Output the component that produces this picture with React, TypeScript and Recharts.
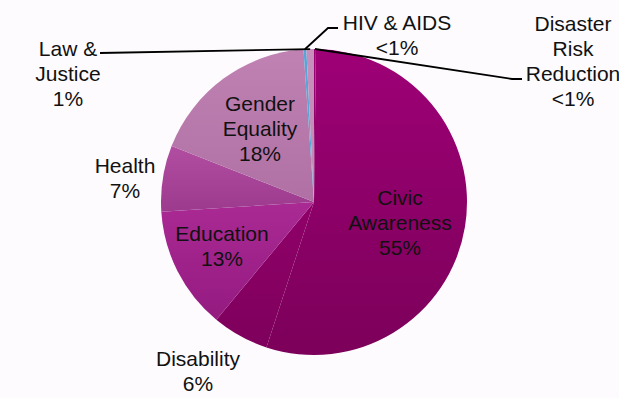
import { PieChart, Pie, Cell } from "recharts"

// clockwise from 12 o'clock
const categories = [
  "Disaster Risk Reduction",
  "Civic Awareness",
  "Disability",
  "Education",
  "Health",
  "Gender Equality",
  "HIV & AIDS",
  "Law & Justice"
]
const shares = [0.2, 55, 6, 13, 7, 18, 0.3, 0.8]
const shareLabels = ["<1%", "55%", "6%", "13%", "7%", "18%", "<1%", "1%"]
const nameLines = [
  ["Disaster", "Risk", "Reduction"],
  ["Civic", "Awareness"],
  ["Disability"],
  ["Education"],
  ["Health"],
  ["Gender", "Equality"],
  ["HIV & AIDS"],
  ["Law &", "Justice"]
]

const colors = [
  ["#9c0074", "#86005f"],
  ["#9e0076", "#7c005a"],
  ["#900069", "#7e005c"],
  ["#aa2a94", "#941a80"],
  ["#b24ea2", "#9c3a8e"],
  ["#bf82b2", "#b070a4"],
  ["#58a6d8", "#58a6d8"],
  ["#c78fbc", "#c08ab6"]
]

const data = categories.map((name, i) => ({ name, value: shares[i] }))

// label block placement relative to the pie centre, plus optional leader line end
const layout: Record<string, { dx: number; dy: number; leader?: [number, number][] }> = {
  "Civic Awareness": { dx: 86, dy: -5 },
  "Gender Equality": { dx: -54, dy: -99 },
  Education: { dx: -92, dy: 31 },
  Health: { dx: -189, dy: -37 },
  Disability: { dx: -116, dy: 156 },
  "Law & Justice": { dx: -246, dy: -154, leader: [[-214, -149]] },
  "HIV & AIDS": { dx: 83, dy: -180, leader: [[14, -174], [24, -174]] },
  "Disaster Risk Reduction": { dx: 259, dy: -179, leader: [[198, -123], [208, -123]] }
}

const RADIAN = Math.PI / 180
const LINE_H = 25

function renderLabel(props: any) {
  const { cx, cy, midAngle, outerRadius, index } = props
  const name = categories[index]
  const l = layout[name]
  const lines = [...nameLines[index], shareLabels[index]]
  let leader = null
  if (l.leader) {
    const ex = cx + outerRadius * Math.cos(-midAngle * RADIAN)
    const ey = cy + outerRadius * Math.sin(-midAngle * RADIAN)
    const pts = [[ex, ey], ...l.leader.map(([x, y]) => [cx + x, cy + y])]
    leader = (
      <polyline
        points={pts.map(p => p.join(",")).join(" ")}
        fill="none"
        stroke="#000"
        strokeWidth={1.8}
      />
    )
  }
  return (
    <g key={name}>
      {leader}
      <text
        x={cx + l.dx}
        y={cy + l.dy}
        textAnchor="middle"
        fill="#111"
        fontSize={21}
        fontFamily="Liberation Sans, Arial, sans-serif"
      >
        {lines.map((t, i) => (
          <tspan key={i} x={cx + l.dx} y={cy + l.dy + i * LINE_H} dominantBaseline="central">
            {t}
          </tspan>
        ))}
      </text>
    </g>
  )
}

export default function App() {
  return (
    <div style={{ position: "absolute", left: 0, top: 0, width: 619, height: 398, background: "#fdfbfd" }}>
      <PieChart width={619} height={398} margin={{ top: 0, right: 0, bottom: 0, left: 0 }}>
        <defs>
          {colors.map((c, i) => (
            <linearGradient key={i} id={"g" + i} x1="0" y1="0" x2="0" y2="1">
              <stop offset="0%" stopColor={c[0]} />
              <stop offset="100%" stopColor={c[1]} />
            </linearGradient>
          ))}
        </defs>
        <Pie
          data={data}
          dataKey="value"
          nameKey="name"
          cx={314}
          cy={202}
          outerRadius={153}
          startAngle={90}
          endAngle={-270}
          stroke="none"
          labelLine={false}
          label={renderLabel}
          isAnimationActive={false}
        >
          {data.map((d, i) => (
            <Cell key={d.name} fill={`url(#g${i})`} />
          ))}
        </Pie>
      </PieChart>
    </div>
  )
}
